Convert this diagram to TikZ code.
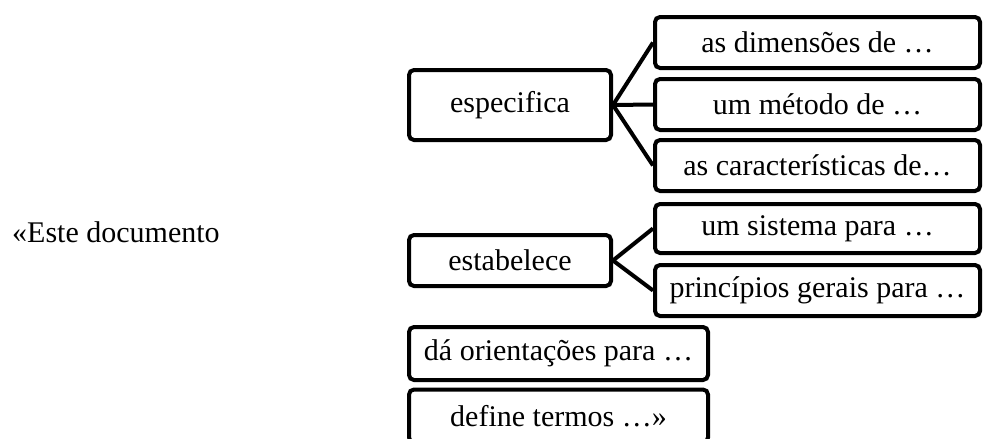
\documentclass[tikz,border=0pt]{standalone}
\usepackage{fontspec}
\setmainfont{Liberation Serif}
\begin{document}
\begin{tikzpicture}[x=1pt,y=-1pt,
  box/.style={draw=black, line width=4pt, rounded corners=5pt, inner sep=0pt,
    font=\fontsize{30}{34}\selectfont, anchor=center},
  link/.style={draw=black, line width=4pt}]
\useasboundingbox (0,0) rectangle (983,439);
\node[font=\fontsize{30}{34}\selectfont, anchor=base west, inner sep=0pt] (doc) at (12,242) {«Este documento};
\node[box, minimum width=202pt, minimum height=70pt] (esp) at (510,105) {especifica};
\node[box, minimum width=325pt, minimum height=51pt] (r1) at (817.5,42.5) {as dimensões de …};
\node[box, minimum width=325pt, minimum height=51pt] (r2) at (817.5,104.5) {um método de …};
\node[box, minimum width=325pt, minimum height=51pt] (r3) at (817.5,165.5) {as características de…};
\node[box, minimum width=202pt, minimum height=51pt] (est) at (510,260.5) {estabelece};
\node[box, minimum width=325pt, minimum height=49pt] (r4) at (817.5,228.5) {um sistema para …};
\node[box, minimum width=325pt, minimum height=51pt] (r5) at (817.5,290.5) {princípios gerais para …};
\node[box, minimum width=299pt, minimum height=53pt] (da) at (558.5,353.5) {dá orientações para …};
\node[box, minimum width=299pt, minimum height=53pt] (def) at (558.5,416) {define termos …»};
\draw[link] (esp.east) -- (r1.west);
\draw[link] (esp.east) -- (r2.west);
\draw[link] (esp.east) -- (r3.west);
\draw[link] (est.east) -- (r4.west);
\draw[link] (est.east) -- (r5.west);
\end{tikzpicture}
\end{document}
